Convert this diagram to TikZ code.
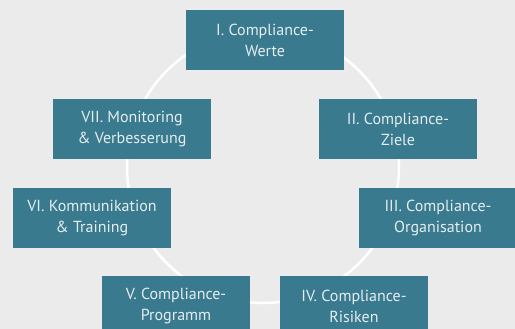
\documentclass[tikz,border=0pt]{standalone}
\usepackage{fontspec}
\setmainfont{PT Sans}
\usetikzlibrary{positioning}
\definecolor{boxteal}{HTML}{3A7A8E}
\definecolor{bggray}{HTML}{EBEBEB}
\definecolor{labelwhite}{HTML}{E4EEF0}
\begin{document}
\begin{tikzpicture}[x=1pt, y=-1pt,
    stage/.style={rectangle, fill=boxteal, text=labelwhite, minimum width=158pt, minimum height=60pt,
      inner sep=0pt, align=center, font=\fontsize{16}{21}\selectfont},
    narrowstage/.style={stage, minimum width=148pt}]
    \clip (0,0) rectangle (515,329);
    \fill[bggray] (0,0) rectangle (515,329);

    % cycle behind the boxes
    \coordinate (hub) at (263,167);
    \draw[white, line width=2.5pt] (hub) circle (136pt);

    \node[stage] (werte) at (265,40) {I. Compliance-\\Werte};
    \node[stage] (ziele) at (398,129) {II. Compliance-\\Ziele};
    \node[stage] (organisation) at (438,218) {III. Compliance-\\Organisation};
    \node[narrowstage] (risiken) at (354,306) {IV. Compliance-\\Risiken};
    \node[narrowstage] (programm) at (176,306) {V. Compliance-\\Programm};
    \node[stage] (kommunikation) at (92,218) {VI. Kommunikation\\\& Training};
    \node[stage] (monitoring) at (132,129) {VII. Monitoring\\\& Verbesserung};
\end{tikzpicture}
\end{document}
